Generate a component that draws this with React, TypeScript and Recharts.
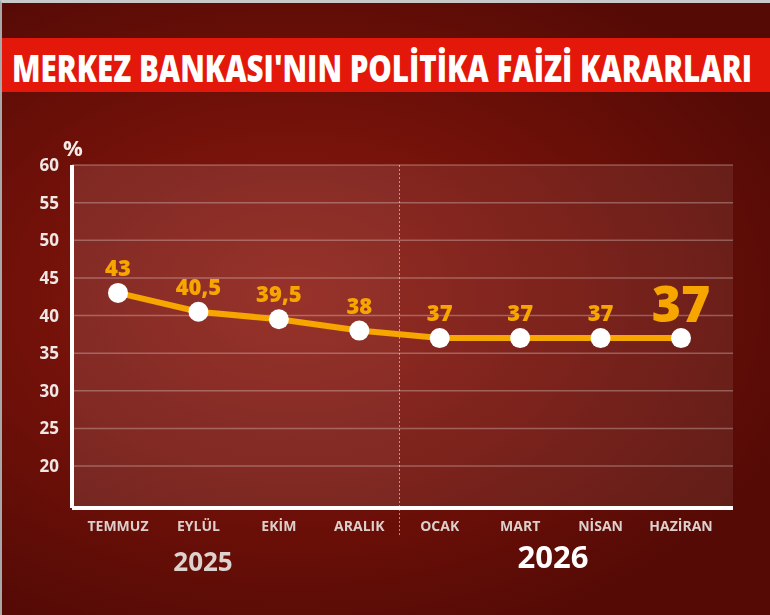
import { LineChart, Line, XAxis, YAxis, CartesianGrid, LabelList, ReferenceLine, ReferenceArea } from "recharts";

const months = ["TEMMUZ", "EYLÜL", "EKİM", "ARALIK", "OCAK", "MART", "NİSAN", "HAZİRAN"];
const rates = [43, 40.5, 39.5, 38, 37, 37, 37, 37];
const yTicks = [20, 25, 30, 35, 40, 45, 50, 55, 60];
const years = ["2025", "2026"];
const title = "MERKEZ BANKASI'NIN POLİTİKA FAİZİ KARARLARI";

const data = months.map((m, i) => ({ i, month: m, rate: rates[i] }));
const xTicks = months.map((_, i) => i);

const FONT = "'Open Sans', sans-serif";
const ORANGE = "#f7a600";

const fmt = (v: number) => String(v).replace(".", ",");

function ValueLabel(props: any) {
  const { x, y, value, index } = props;
  const last = index === rates.length - 1;
  return (
    <text
      x={x}
      y={y - (last ? 16 : 17)}
      textAnchor="middle"
      fill={ORANGE}
      fontFamily={FONT}
      fontWeight={800}
      fontSize={last ? 50 : 22}
    >
      {fmt(value)}
    </text>
  );
}

// title is squeezed horizontally through the viewBox to look condensed
const squeeze = 0.79;

export default function App() {
  return (
    <div
      style={{
        position: "fixed",
        left: 0,
        top: 0,
        width: 770,
        height: 615,
        boxSizing: "border-box",
        borderTop: "3px solid #c9c9c9",
        borderLeft: "2px solid #a8a8a8",
        background:
          "radial-gradient(ellipse 70% 60% at 38% 48%, #8c1b13 0%, #721109 50%, #550a05 100%)",
        fontFamily: FONT,
        overflow: "hidden",
      }}
    >
      <div style={{ position: "absolute", left: -2, top: 35, width: 770, height: 54, background: "#e3180b" }}>
        <svg width={770} height={54} viewBox={`0 0 ${770 / squeeze} 54`} preserveAspectRatio="none">
          <text
            x={12 / squeeze}
            y={44}
            textLength={740 / squeeze}
            lengthAdjust="spacingAndGlyphs"
            fill="#ffffff"
            fontFamily={FONT}
            fontWeight={800}
            fontSize={37}
          >
            {title}
          </text>
        </svg>
      </div>

      <div style={{ position: "absolute", left: -2, top: -3 }}>
        <LineChart width={770} height={615} data={data} margin={{ top: 165, right: 37, bottom: 0, left: 0 }}>
          <CartesianGrid
            vertical={false}
            horizontalValues={yTicks}
            stroke="rgba(255,255,255,0.28)"
            strokeWidth={1.5}
            fill="rgba(255,255,255,0.08)"
          />
          <ReferenceArea x1={-1} x2={3.5} y1={14.42} y2={60} ifOverflow="hidden" fill="rgba(255,255,255,0.06)" stroke="none" />
          <ReferenceLine
            segment={[{ x: 3.5, y: 60 }, { x: 3.5, y: 10.57 }]}
            ifOverflow="visible"
            stroke="rgba(255,255,255,0.5)"
            strokeDasharray="2 2"
          />
          <XAxis
            dataKey="i"
            type="number"
            domain={[0, 7]}
            ticks={xTicks}
            tickFormatter={(v: number) => months[v]}
            padding={{ left: 46, right: 52 }}
            height={107}
            axisLine={{ stroke: "#ffffff", strokeWidth: 4 }}
            tickLine={false}
            tickSize={0}
            tickMargin={13}
            tick={{ fill: "#ddd0cc", fontSize: 14, fontWeight: 700, fontFamily: FONT }}
            interval={0}
          />
          <YAxis
            type="number"
            domain={[14.42, 60]}
            ticks={yTicks}
            width={72}
            axisLine={{ stroke: "#ffffff", strokeWidth: 4 }}
            tickLine={false}
            tickSize={0}
            tickMargin={13}
            tick={{ fill: "#f0e6e3", fontSize: 17, fontWeight: 700, fontFamily: FONT }}
            allowDataOverflow
          />
          <Line
            dataKey="rate"
            stroke={ORANGE}
            strokeWidth={6}
            dot={{ r: 10, fill: "#ffffff", stroke: "none", fillOpacity: 1 }}
            activeDot={false}
            isAnimationActive={false}
          >
            <LabelList dataKey="rate" content={ValueLabel} />
          </Line>
        </LineChart>
      </div>

      <div style={{ position: "absolute", left: 61, top: 129, color: "#f4ebe8", fontSize: 22, fontWeight: 700 }}>%</div>
      <div
        style={{
          position: "absolute",
          left: 141,
          width: 120,
          textAlign: "center",
          top: 545,
          lineHeight: 1,
          color: "#ddd2ce",
          fontSize: 26,
          fontWeight: 700,
        }}
      >
        {years[0]}
      </div>
      <div
        style={{
          position: "absolute",
          left: 491,
          width: 120,
          textAlign: "center",
          top: 538,
          lineHeight: 1,
          color: "#ffffff",
          fontSize: 31,
          fontWeight: 700,
        }}
      >
        {years[1]}
      </div>
    </div>
  );
}
